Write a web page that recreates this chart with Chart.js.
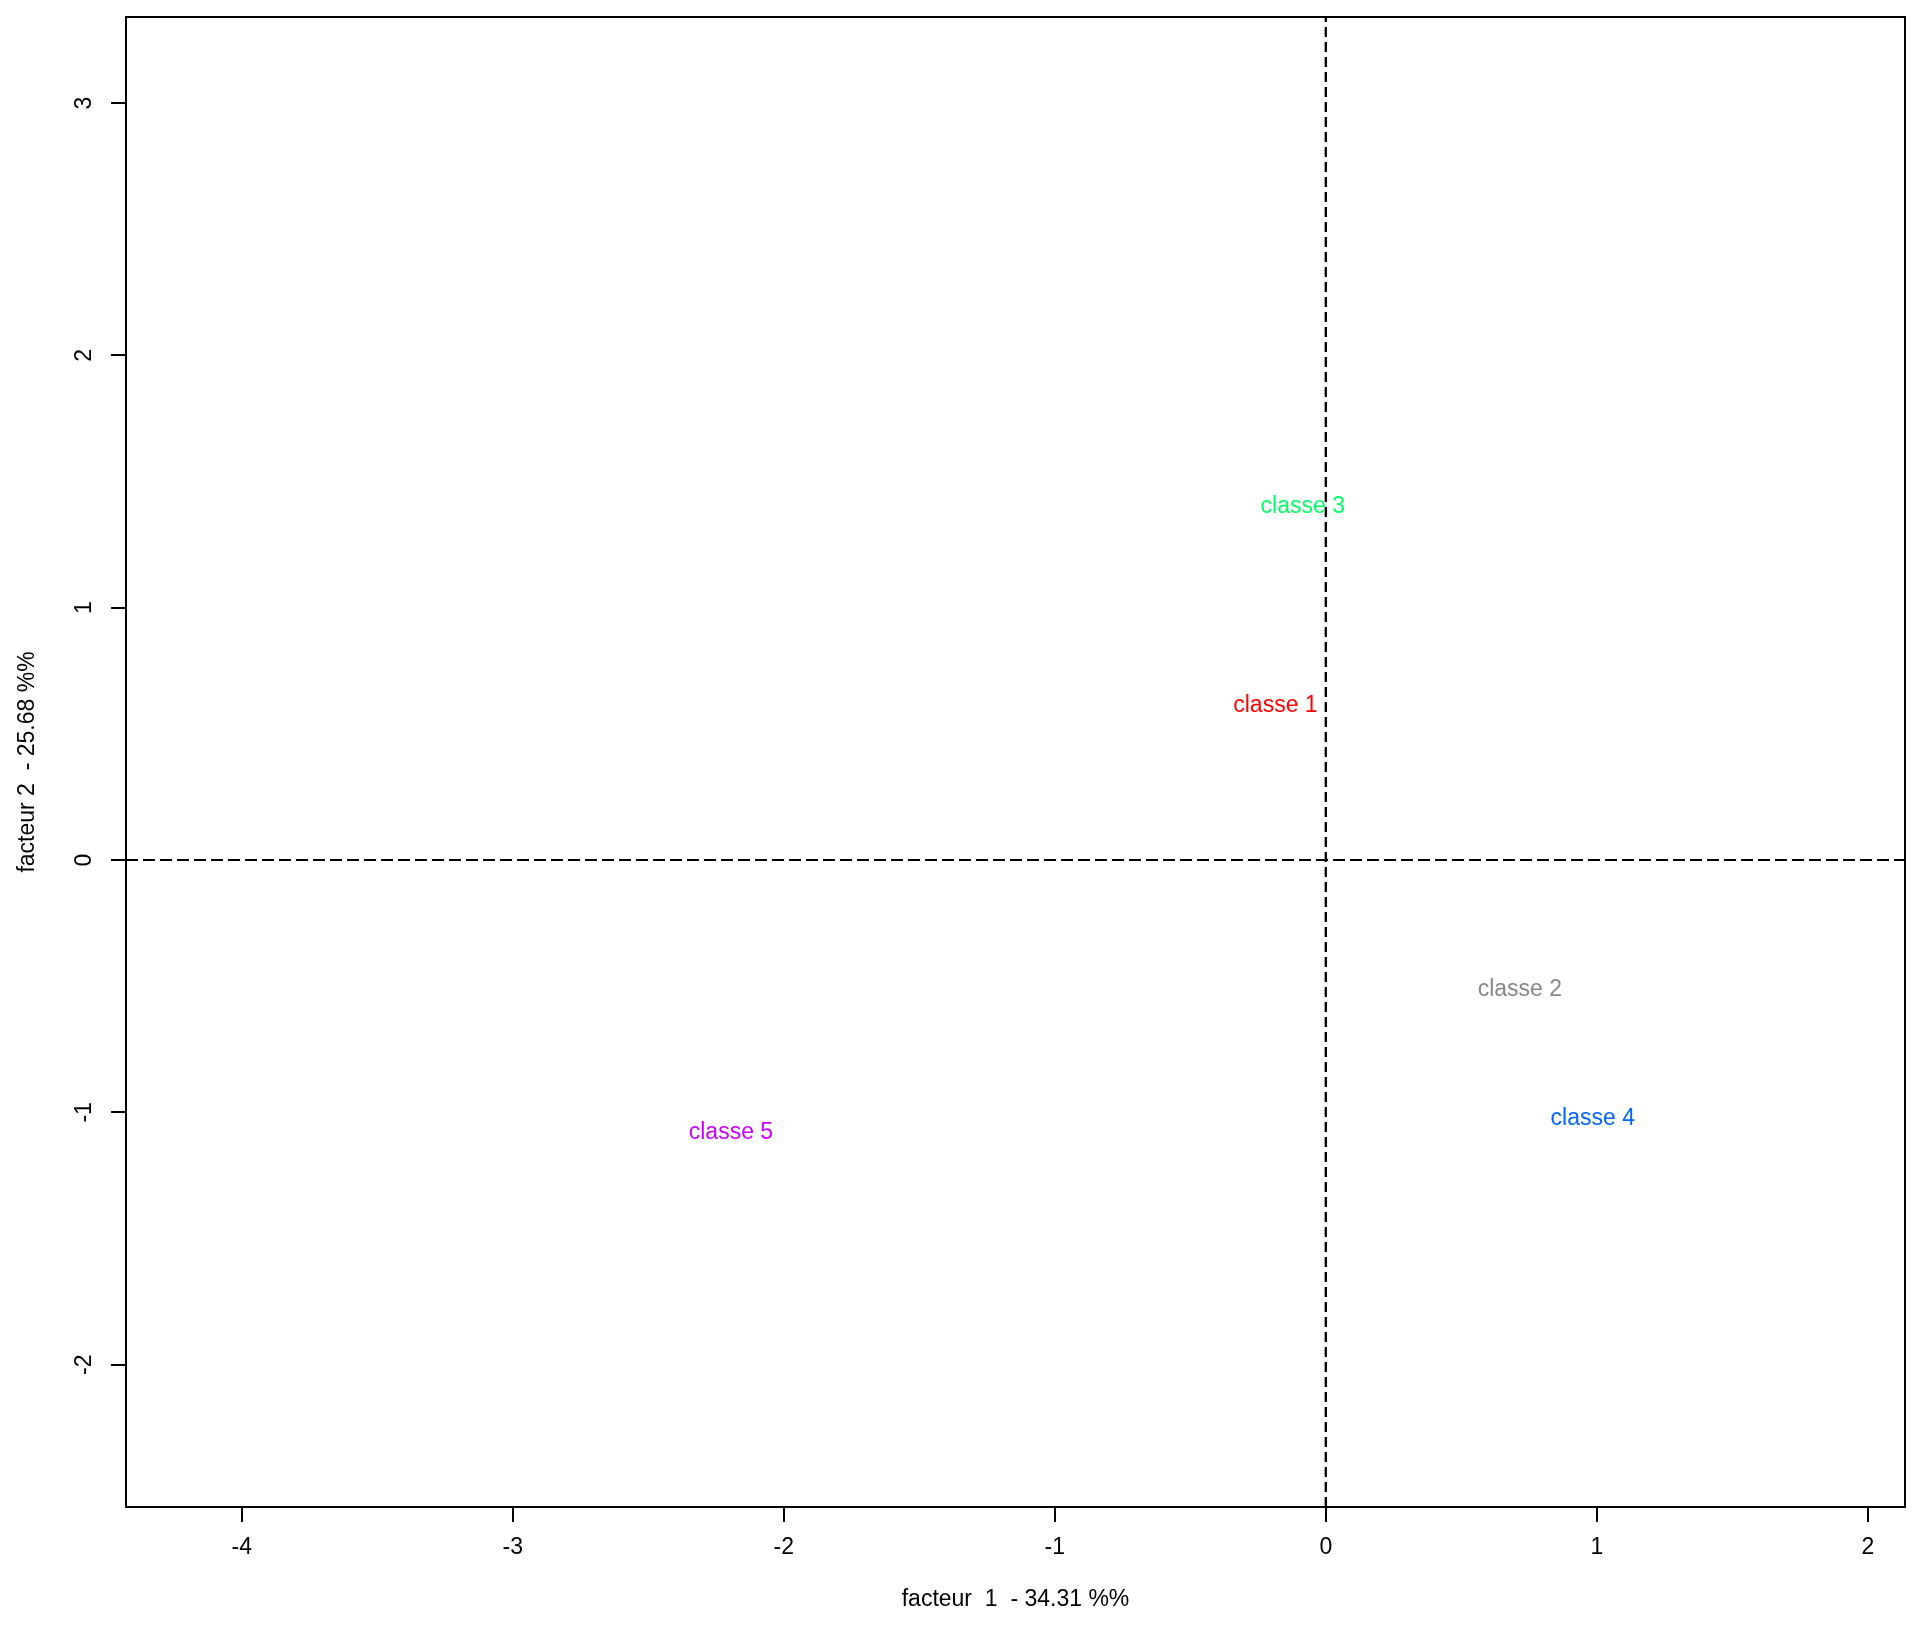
<!DOCTYPE html>
<html>
<head>
<meta charset="utf-8">
<script src="https://cdn.jsdelivr.net/npm/chart.js@4/dist/chart.umd.min.js"></script>
<style>
  body { margin: 0; background: #fff; }
  #wrap { width: 1931px; height: 1630px; }
</style>
</head>
<body>
<div id="wrap"><canvas id="myChart"></canvas></div>
<script>
var classNames = ['classe 1', 'classe 2', 'classe 3', 'classe 4', 'classe 5']
var factor1 = [-0.186, 0.716, -0.085, 0.985, -2.195]
var factor2 = [0.610, -0.515, 1.399, -1.023, -1.080]
var classColors = ['#FF0000', '#888888', '#00FF66', '#0066FF', '#CC00FF']

var xTitle = 'facteur  1  - 34.31 %%'
var yTitle = 'facteur 2  - 25.68 %%'
var xMin = -4.427, xMax = 2.137
var yMin = -2.564, yMax = 3.341

var fontFamily = '"Liberation Sans", Arial, sans-serif'
var fontSize = 23

Chart.defaults.font.family = fontFamily
Chart.defaults.font.size = fontSize
Chart.defaults.color = '#000'

var points = factor1.map((v, i) => ({ x: v, y: factor2[i] }))

// writes the class names at their coordinates, like R's text()
var labelPlugin = {
  id: 'classLabels',
  afterDatasetsDraw(chart) {
    var ctx = chart.ctx
    var meta = chart.getDatasetMeta(0)
    ctx.save()
    ctx.font = fontSize + 'px ' + fontFamily
    ctx.textAlign = 'center'
    ctx.textBaseline = 'middle'
    meta.data.forEach((pt, i) => {
      ctx.fillStyle = classColors[i]
      ctx.fillText(classNames[i], pt.x, pt.y)
    })
    ctx.restore()
  }
}

var axisLine = { display: true, color: '#000', width: 2 }

var ctx = document.getElementById('myChart').getContext('2d')
var myChart = new Chart(ctx, {
  type: 'scatter',
  plugins: [labelPlugin],
  data: {
    datasets: [{
        label: 'classes',
        data: points,
        pointRadius: 0,
        pointHoverRadius: 0
    },
    {
        type: 'line',
        label: 'axe 1',
        data: [{ x: xMin, y: 0 }, { x: xMax, y: 0 }],
        borderColor: '#000',
        borderWidth: 2,
        borderDash: [12, 5],
        pointRadius: 0
    },
    {
        type: 'line',
        label: 'axe 2',
        data: [{ x: 0, y: yMin }, { x: 0, y: yMax }],
        borderColor: '#000',
        borderWidth: 2.4,
        borderDash: [10, 5],
        pointRadius: 0
    }]
  },
  options: {
    responsive: true,
    maintainAspectRatio: false,
    devicePixelRatio: 1,
    animation: false,
    events: [],
    layout: { padding: { top: 17, right: 26, left: 0, bottom: 0 } },
    plugins: {
      legend: { display: false },
      tooltip: { enabled: false }
    },
    scales: {
      x: {
        type: 'linear',
        position: 'bottom',
        min: xMin,
        max: xMax,
        afterFit: s => { s.height = 123; s.paddingLeft = 0; s.paddingRight = 0 },
        ticks: { stepSize: 1, includeBounds: false, padding: 12, maxRotation: 0 },
        grid: { display: true, drawOnChartArea: false, drawTicks: true, tickLength: 15, color: '#000', lineWidth: 2 },
        border: axisLine,
        title: { display: true, text: xTitle, padding: { top: 0, bottom: 17 } }
      },
      y: {
        type: 'linear',
        position: 'left',
        min: yMin,
        max: yMax,
        afterFit: s => { s.width = 126; s.paddingTop = 0; s.paddingBottom = 0 },
        ticks: { stepSize: 1, includeBounds: false, padding: 16, minRotation: 90, maxRotation: 90, crossAlign: 'center' },
        grid: { display: true, drawOnChartArea: false, drawTicks: true, tickLength: 15, color: '#000', lineWidth: 2 },
        border: axisLine,
        title: { display: true, text: yTitle, padding: { top: 14, bottom: 0 } }
      },
      x2: {
        type: 'linear',
        position: 'top',
        display: true,
        afterFit: s => { s.height = 0 },
        ticks: { display: false },
        grid: { display: false, drawTicks: false },
        border: axisLine
      },
      y2: {
        type: 'linear',
        position: 'right',
        display: true,
        afterFit: s => { s.width = 0 },
        ticks: { display: false },
        grid: { display: false, drawTicks: false },
        border: axisLine
      }
    }
  }
})
</script>
</body>
</html>
